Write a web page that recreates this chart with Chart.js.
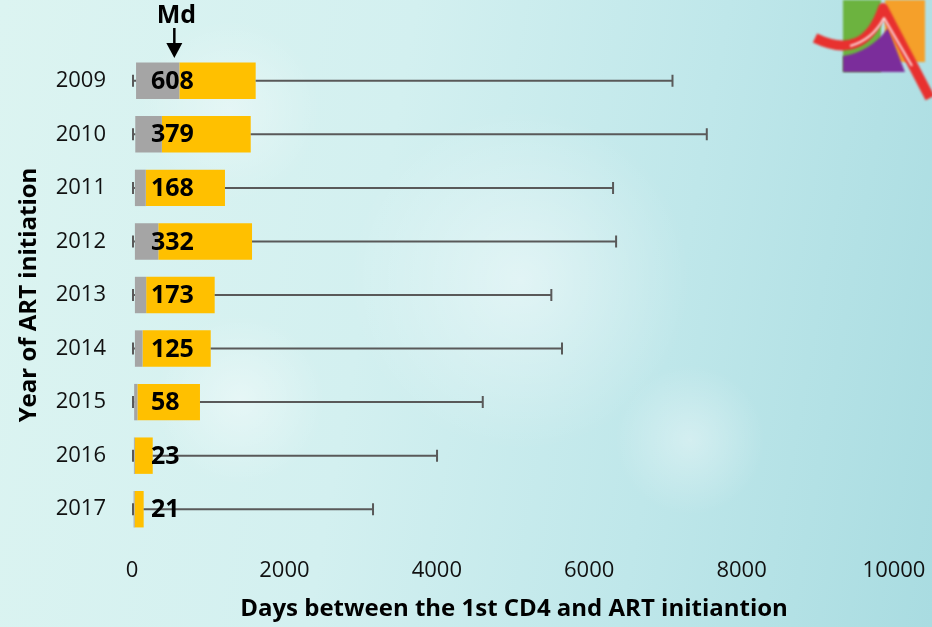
<!DOCTYPE html>
<html>
<head>
<meta charset="utf-8">
<script src="https://cdn.jsdelivr.net/npm/chart.js@4"></script>
<style>
  html, body { margin: 0; padding: 0; }
  body {
    width: 932px; height: 627px; overflow: hidden;
    background:
      radial-gradient(circle at 230px 110px, rgba(255,255,255,0.35) 0, rgba(255,255,255,0) 90px),
      radial-gradient(circle at 520px 280px, rgba(255,255,255,0.45) 0, rgba(255,255,255,0) 170px),
      radial-gradient(circle at 690px 440px, rgba(255,255,255,0.35) 0, rgba(255,255,255,0) 75px),
      radial-gradient(circle at 240px 400px, rgba(255,255,255,0.4) 0, rgba(255,255,255,0) 85px),
      linear-gradient(100deg, #dcf4f1 0%, #d3f0f0 40%, #bfe7ea 70%, #a9dce1 100%);
  }
  canvas { display: block; }
</style>
</head>
<body>
<canvas id="boxChart" width="932" height="627"></canvas>
<script>
// Days between 1st CD4 and ART initiation, by year
const years = ['2009', '2010', '2011', '2012', '2013', '2014', '2015', '2016', '2017'];
const minDays = [0, 0, 0, 0, 0, 0, 0, 0, 0];
const q1Days = [40, 30, 25, 25, 25, 25, 15, 12, 8];
const medianDays = [608, 379, 168, 332, 173, 125, 58, 23, 21];
const q3Days = [1610, 1545, 1207, 1562, 1072, 1020, 879, 259, 140];
const maxDays = [7080, 7530, 6300, 6340, 5490, 5630, 4590, 3990, 3150];
const xTicks = [0, 2000, 4000, 6000, 8000, 10000];

const textFont = '"Open Sans", "Noto Sans", sans-serif';

// whiskers, median labels and the "Md" marker
const boxExtras = {
    id: 'boxExtras',
    afterDatasetsDraw(chart) {
        const { ctx, scales: { x, y } } = chart;
        ctx.save();
        ctx.strokeStyle = '#595959';
        ctx.lineWidth = 2;
        years.forEach((yr, i) => {
            const cy = y.getPixelForValue(i);
            [[q1Days[i], minDays[i]], [q3Days[i], maxDays[i]]].forEach(([from, to]) => {
                const a = x.getPixelForValue(from);
                const b = x.getPixelForValue(to);
                ctx.beginPath();
                ctx.moveTo(a, cy);
                ctx.lineTo(b, cy);
                ctx.moveTo(b, cy - 6);
                ctx.lineTo(b, cy + 6);
                ctx.stroke();
            });
        });

        ctx.fillStyle = '#000';
        ctx.font = 'bold 25px ' + textFont;
        ctx.textAlign = 'left';
        ctx.textBaseline = 'middle';
        const labelX = x.getPixelForValue(0) + 18;
        medianDays.forEach((m, i) => ctx.fillText(String(m), labelX, y.getPixelForValue(i) + 1));

        // Md arrow over the first row
        const mx = x.getPixelForValue(medianDays[0]) - 5;
        ctx.font = 'bold 25px ' + textFont;
        ctx.textAlign = 'center';
        ctx.fillText('Md', mx + 2, 16);
        ctx.strokeStyle = '#000';
        ctx.lineWidth = 2.5;
        ctx.beginPath();
        ctx.moveTo(mx, 28);
        ctx.lineTo(mx, 45);
        ctx.stroke();
        ctx.beginPath();
        ctx.moveTo(mx - 8, 43);
        ctx.lineTo(mx + 8, 43);
        ctx.lineTo(mx, 58);
        ctx.closePath();
        ctx.fill();
        ctx.restore();
    },
    afterDraw(chart) {
        // blurry logo in the top right corner
        const ctx = chart.ctx;
        ctx.save();
        ctx.filter = 'blur(1.2px)';
        ctx.fillStyle = '#6cb33f';
        ctx.fillRect(843, 0, 38, 72);
        ctx.fillStyle = '#f5a02a';
        ctx.fillRect(885, 0, 40, 62);
        ctx.fillStyle = '#7b2d9b';
        ctx.beginPath();
        ctx.moveTo(843, 72);
        ctx.lineTo(905, 72);
        ctx.lineTo(888, 28);
        ctx.quadraticCurveTo(870, 52, 843, 56);
        ctx.closePath();
        ctx.fill();
        ctx.strokeStyle = '#e8312f';
        ctx.lineWidth = 10;
        ctx.lineJoin = 'round';
        ctx.beginPath();
        ctx.moveTo(815, 38);
        ctx.quadraticCurveTo(865, 62, 883, 8);
        ctx.lineTo(930, 98);
        ctx.stroke();
        ctx.strokeStyle = 'rgba(255,255,255,0.85)';
        ctx.lineWidth = 2;
        ctx.beginPath();
        ctx.moveTo(850, 46);
        ctx.quadraticCurveTo(872, 40, 884, 18);
        ctx.lineTo(912, 66);
        ctx.stroke();
        ctx.restore();
    }
};

const boxChart = new Chart(document.getElementById('boxChart'), {
    type: 'bar',
    data: {
        labels: years,
        datasets: [{
            label: 'Q1 to median',
            data: years.map((yr, i) => [q1Days[i], medianDays[i]]),
            backgroundColor: '#A5A5A5',
            grouped: false,
            categoryPercentage: 1,
            barPercentage: 0.68
        }, {
            label: 'Median to Q3',
            data: years.map((yr, i) => [medianDays[i], q3Days[i]]),
            backgroundColor: '#FFC000',
            grouped: false,
            categoryPercentage: 1,
            barPercentage: 0.68
        }]
    },
    options: {
        indexAxis: 'y',
        responsive: false,
        animation: false,
        devicePixelRatio: 1,
        layout: { padding: { top: 54, right: 37, bottom: 0, left: 0 } },
        plugins: {
            legend: { display: false },
            tooltip: { enabled: false }
        },
        scales: {
            x: {
                min: 0,
                max: 10000,
                afterBuildTicks: s => { s.ticks = xTicks.map(v => ({ value: v })); },
                afterFit: s => {
                    s.height = 91;
                    s.paddingLeft = 0;
                    s.paddingRight = 0;
                },
                grid: { display: false, drawTicks: false },
                border: { display: false },
                ticks: {
                    color: '#111',
                    font: { family: textFont, size: 22 },
                    padding: 22,
                    labelOffset: -1,
                    callback: v => String(v)
                },
                title: {
                    display: true,
                    text: 'Days between the 1st CD4 and ART initiantion',
                    color: '#000',
                    font: { family: textFont, size: 24, weight: 'bold' },
                    padding: { top: 0, bottom: 3 }
                }
            },
            y: {
                afterFit: s => { s.width = 133; },
                grid: { display: false, drawTicks: false },
                border: { display: false },
                ticks: {
                    color: '#111',
                    font: { family: textFont, size: 22 },
                    padding: 27
                },
                title: {
                    display: true,
                    text: 'Year of ART initiation',
                    color: '#000',
                    font: { family: textFont, size: 24, weight: 'bold' },
                    padding: { top: 15, bottom: 0 }
                }
            }
        }
    },
    plugins: [boxExtras]
});
</script>
</body>
</html>
